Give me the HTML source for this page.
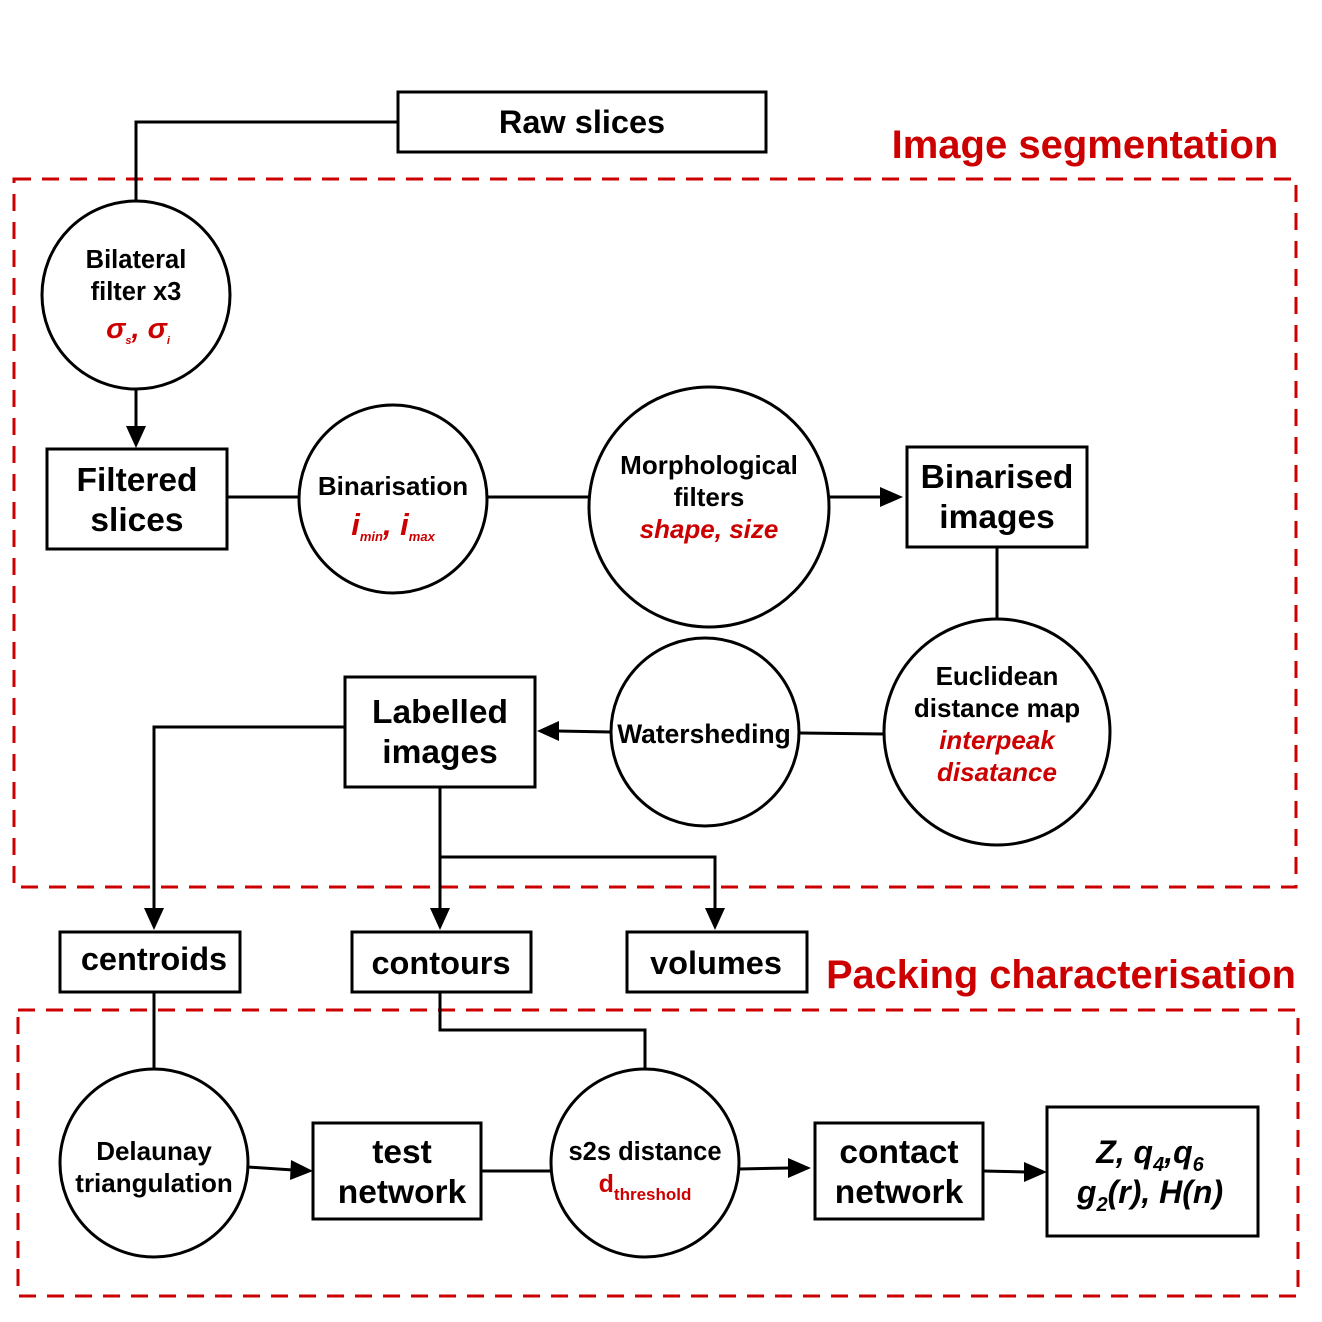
<!DOCTYPE html>
<html><head><meta charset="utf-8"><style>
html,body{margin:0;padding:0;background:#fff}
svg{display:block}
text{font-family:"Liberation Sans",Arial,sans-serif;font-weight:bold;text-anchor:middle}
.r{fill:#cc0000}
</style></head><body>
<svg width="1322" height="1322" viewBox="0 0 1322 1322" xmlns="http://www.w3.org/2000/svg">
<g fill="none" stroke="#cc0000" stroke-width="3" stroke-dasharray="17,11">
<rect x="14" y="179" width="1282" height="708"/>
<rect x="18" y="1010" width="1280" height="286"/>
</g>
<g fill="none" stroke="#000" stroke-width="3">
<rect x="398" y="92" width="368" height="60" fill="#fff"/>
<polyline points="398,122 136,122 136,202"/>
<circle cx="136" cy="295" r="94" fill="#fff"/>
<line x1="136" y1="389" x2="136" y2="428"/>
<rect x="47" y="449" width="180" height="100" fill="#fff"/>
<line x1="227" y1="497" x2="299" y2="497"/>
<circle cx="393" cy="499" r="94" fill="#fff"/>
<line x1="487" y1="497" x2="589" y2="497"/>
<circle cx="709" cy="507" r="120" fill="#fff"/>
<line x1="829" y1="497" x2="882" y2="497"/>
<rect x="907" y="447" width="180" height="100" fill="#fff"/>
<line x1="997" y1="547" x2="997" y2="622"/>
<circle cx="997" cy="732" r="113" fill="#fff"/>
<line x1="884" y1="734" x2="800" y2="733"/>
<circle cx="705" cy="732" r="94" fill="#fff"/>
<line x1="611" y1="732" x2="557" y2="731"/>
<rect x="345" y="677" width="190" height="110" fill="#fff"/>
<polyline points="345,727 154,727 154,910"/>
<line x1="440" y1="787" x2="440" y2="910"/>
<polyline points="440,857 715,857 715,910"/>
<rect x="60" y="932" width="180" height="60" fill="#fff"/>
<rect x="352" y="932" width="179" height="60" fill="#fff"/>
<rect x="627" y="932" width="180" height="60" fill="#fff"/>
<line x1="154" y1="992" x2="154" y2="1070"/>
<polyline points="440,992 440,1030 645,1030 645,1069"/>
<circle cx="154" cy="1163" r="94" fill="#fff"/>
<line x1="248" y1="1167" x2="293" y2="1170"/>
<rect x="313" y="1123" width="168" height="96" fill="#fff"/>
<line x1="481" y1="1171" x2="551" y2="1171"/>
<circle cx="645" cy="1163" r="94" fill="#fff"/>
<line x1="739" y1="1169" x2="790" y2="1168"/>
<rect x="815" y="1123" width="168" height="96" fill="#fff"/>
<line x1="983" y1="1171" x2="1026" y2="1172"/>
<rect x="1047" y="1107" width="211" height="129" fill="#fff"/>
</g>
<g fill="#000">
<polygon points="126,426 146,426 136,448"/>
<polygon points="880,487 880,507 903,497"/>
<polygon points="559,721 559,741 537,731"/>
<polygon points="144,908 164,908 154,930"/>
<polygon points="430,908 450,908 440,930"/>
<polygon points="705,908 725,908 715,930"/>
<polygon points="291,1160 290,1180 313,1171"/>
<polygon points="788,1158 788,1178 811,1168"/>
<polygon points="1024,1162 1024,1182 1047,1172"/>
</g>
<text x="1085" y="158" class="r" font-size="40">Image segmentation</text>
<text x="1061" y="988" class="r" font-size="39.7">Packing characterisation</text>
<text x="582" y="133" font-size="32.5">Raw slices</text>
<text x="136" y="268" font-size="25.5">Bilateral</text>
<text x="136" y="300" font-size="25.5">filter x3</text>
<text x="138" y="338" class="r" font-size="29" font-style="italic">σ<tspan font-size="11" dy="6">s</tspan><tspan dy="-6">, σ</tspan><tspan font-size="11" dy="6">i</tspan></text>
<text x="137" y="491" font-size="33.5">Filtered</text>
<text x="137" y="531" font-size="33.5">slices</text>
<text x="393" y="495" font-size="26">Binarisation</text>
<text x="393" y="535" class="r" font-size="31" font-style="italic">i<tspan font-size="13" dy="6">min</tspan><tspan dy="-6">, i</tspan><tspan font-size="13" dy="6">max</tspan></text>
<text x="709" y="474" font-size="26">Morphological</text>
<text x="709" y="506" font-size="26">filters</text>
<text x="709" y="538" class="r" font-size="26" font-style="italic">shape, size</text>
<text x="997" y="488" font-size="33.5">Binarised</text>
<text x="997" y="528" font-size="33.5">images</text>
<text x="997" y="685" font-size="26">Euclidean</text>
<text x="997" y="717" font-size="26">distance map</text>
<text x="997" y="749" class="r" font-size="26" font-style="italic">interpeak</text>
<text x="997" y="781" class="r" font-size="26" font-style="italic">disatance</text>
<text x="704" y="743" font-size="26.4">Watersheding</text>
<text x="440" y="723" font-size="33.5">Labelled</text>
<text x="440" y="763" font-size="33.5">images</text>
<text x="154" y="970" font-size="32.5">centroids</text>
<text x="441" y="974" font-size="32.5">contours</text>
<text x="716" y="974" font-size="32.5">volumes</text>
<text x="154" y="1160" font-size="26">Delaunay</text>
<text x="154" y="1192" font-size="26">triangulation</text>
<text x="402" y="1163" font-size="33.5">test</text>
<text x="402" y="1203" font-size="33.5">network</text>
<text x="645" y="1160" font-size="25.5">s2s distance</text>
<text x="645" y="1192" class="r" font-size="25">d<tspan font-size="17" dy="8">threshold</tspan></text>
<text x="899" y="1163" font-size="33.5">contact</text>
<text x="899" y="1203" font-size="33.5">network</text>
<text x="1150" y="1163" font-size="32" font-style="italic">Z, q<tspan font-size="20" dy="8">4</tspan><tspan dy="-8">,q</tspan><tspan font-size="20" dy="8">6</tspan></text>
<text x="1150" y="1203" font-size="32" font-style="italic">g<tspan font-size="20" dy="8">2</tspan><tspan dy="-8">(r), H(n)</tspan></text>
</svg>
</body></html>
